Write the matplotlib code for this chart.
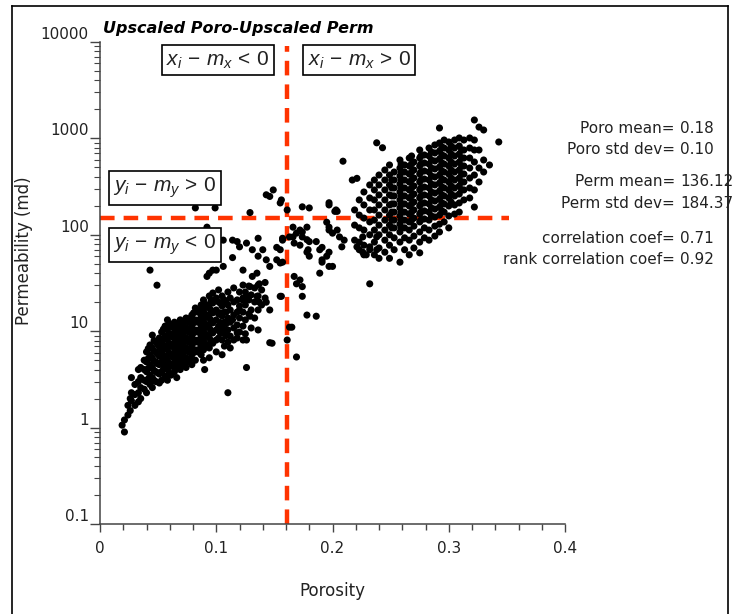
import numpy as np
import matplotlib
matplotlib.use("Agg")
import matplotlib.pyplot as plt
from matplotlib.lines import Line2D
from matplotlib.ticker import FixedLocator, FixedFormatter, MultipleLocator, LogLocator, NullFormatter

plt.rcParams["font.family"] = ["DejaVu Sans"]
plt.rcParams["mathtext.fontset"] = "custom"
plt.rcParams["mathtext.it"] = "Liberation Sans:italic"
plt.rcParams["mathtext.rm"] = "Liberation Sans"
plt.rcParams["lines.scale_dashes"] = False

# (porosity, permeability md)
low_cluster = [
    (0.019, 1.06), (0.021, 1.2), (0.021, 0.9), (0.024, 1.7), (0.024, 1.35),
    (0.026, 2.0), (0.026, 1.5), (0.027, 3.3), (0.027, 2.3), (0.027, 1.9),
    (0.030, 2.8), (0.030, 2.2), (0.030, 1.7),
    (0.033, 4.0), (0.033, 3.0), (0.033, 2.3), (0.033, 1.85),
    (0.035, 4.2), (0.035, 3.3), (0.035, 2.6), (0.035, 2.0),
    (0.038, 5.0), (0.038, 4.0), (0.038, 3.1), (0.038, 2.5),
    (0.040, 6.1), (0.040, 4.8), (0.040, 3.8), (0.040, 3.0), (0.040, 2.3),
    (0.043, 7.2), (0.043, 5.7), (0.043, 4.5), (0.043, 3.5), (0.043, 2.8),
    (0.045, 9.1), (0.045, 6.7), (0.045, 5.3), (0.045, 4.2), (0.045, 3.3), (0.045, 2.6),
    (0.048, 7.7), (0.048, 6.1), (0.048, 4.8), (0.048, 3.8), (0.048, 3.0),
    (0.051, 8.5), (0.051, 6.9), (0.051, 5.5), (0.051, 4.5), (0.051, 3.6), (0.051, 2.9),
    (0.053, 9.8), (0.053, 7.7), (0.053, 6.1), (0.053, 4.8), (0.053, 3.8), (0.053, 3.1),
    (0.056, 11.3), (0.056, 8.9), (0.056, 7.0), (0.056, 5.5), (0.056, 4.4), (0.056, 3.4),
    (0.058, 13.1), (0.058, 10.3), (0.058, 8.1), (0.058, 6.4), (0.058, 5.0), (0.058, 4.0), (0.058, 3.1),
    (0.061, 11.6), (0.061, 9.1), (0.061, 7.2), (0.061, 5.7), (0.061, 4.5), (0.061, 3.5),
    (0.064, 12.4), (0.064, 9.8), (0.064, 7.7), (0.064, 6.1), (0.064, 4.8), (0.064, 3.8),
    (0.066, 10.8), (0.066, 8.5), (0.066, 6.7), (0.066, 5.3), (0.066, 4.2), (0.066, 3.3),
    (0.069, 13.1), (0.069, 10.3), (0.069, 8.1), (0.069, 6.4), (0.069, 5.0), (0.069, 4.0),
    (0.071, 11.6), (0.071, 9.1), (0.071, 7.2), (0.071, 5.7), (0.071, 4.5),
    (0.074, 13.7), (0.074, 10.8), (0.074, 8.5), (0.074, 6.7), (0.074, 5.3), (0.074, 4.2),
    (0.076, 12.4), (0.076, 9.8), (0.076, 7.7), (0.076, 6.1), (0.076, 4.8),
    (0.079, 14.7), (0.079, 11.6), (0.079, 9.1), (0.079, 7.2), (0.079, 5.7), (0.079, 4.5),
    (0.082, 17.4), (0.082, 13.1), (0.082, 10.3), (0.082, 8.1), (0.082, 6.4), (0.082, 5.0),
    (0.084, 15.8), (0.084, 12.4), (0.084, 9.8), (0.084, 7.7), (0.084, 6.1),
    (0.087, 18.7), (0.087, 14.7), (0.087, 11.6), (0.087, 9.1), (0.087, 7.2), (0.087, 5.7),
    (0.089, 21.1), (0.089, 16.6), (0.089, 13.1), (0.089, 10.3), (0.089, 8.1), (0.089, 6.4), (0.089, 5.0),
    (0.092, 18.7), (0.092, 14.7), (0.092, 11.6), (0.092, 9.1), (0.092, 7.2),
    (0.094, 23.2), (0.094, 17.4), (0.094, 13.7), (0.094, 10.8), (0.094, 8.5), (0.094, 6.7), (0.094, 5.3),
    (0.097, 24.9), (0.097, 19.6), (0.097, 15.5), (0.097, 12.2), (0.097, 9.6), (0.097, 7.5),
    (0.100, 22.1), (0.100, 16.6), (0.100, 13.1), (0.100, 10.3), (0.100, 8.1), (0.100, 6.1),
    (0.102, 26.8), (0.102, 20.1), (0.102, 15.1), (0.102, 11.3), (0.102, 8.5),
    (0.105, 23.2), (0.105, 18.3), (0.105, 14.4), (0.105, 10.8), (0.105, 8.1), (0.105, 5.7),
    (0.107, 21.1), (0.107, 15.8), (0.107, 12.4), (0.107, 9.4), (0.107, 7.0),
    (0.110, 25.5), (0.110, 18.7), (0.110, 13.7), (0.110, 10.3), (0.110, 7.7),
    (0.112, 22.1), (0.112, 16.6), (0.112, 12.4), (0.112, 8.9), (0.112, 6.7),
    (0.115, 28.1), (0.115, 20.1), (0.115, 14.7), (0.115, 10.8), (0.115, 8.1),
    (0.118, 21.1), (0.118, 15.8), (0.118, 11.6), (0.118, 8.5),
    (0.120, 25.5), (0.120, 18.3), (0.120, 13.7), (0.120, 9.8),
    (0.123, 30.1), (0.123, 22.1), (0.123, 15.8), (0.123, 11.3), (0.123, 8.1),
    (0.125, 25.5), (0.125, 18.7), (0.125, 13.1), (0.125, 9.4),
    (0.128, 29.4), (0.128, 21.1), (0.128, 15.1),
    (0.130, 23.8), (0.130, 16.6), (0.130, 10.8),
    (0.133, 28.1), (0.133, 20.1), (0.133, 13.7),
    (0.136, 30.1), (0.136, 23.2), (0.136, 16.6), (0.136, 10.3),
    (0.139, 26.8), (0.139, 18.7), (0.142, 32.0), (0.142, 22.1),
    (0.049, 30.0), (0.043, 43.0), (0.090, 4.0), (0.110, 2.3), (0.126, 4.2), (0.148, 7.5),
    # denser core
    (0.0415, 6.6), (0.0415, 5.2), (0.0415, 4.1), (0.0415, 3.2),
    (0.0465, 8.0), (0.0465, 6.2), (0.0465, 4.9), (0.0465, 3.9), (0.0465, 3.1),
    (0.0495, 7.3), (0.0495, 5.8), (0.0495, 4.6), (0.0495, 3.7),
    (0.0545, 10.5), (0.0545, 8.3), (0.0545, 6.5), (0.0545, 5.1), (0.0545, 4.0),
    (0.0595, 12.0), (0.0595, 9.4), (0.0595, 7.4), (0.0595, 5.9), (0.0595, 4.6), (0.0595, 3.7),
    (0.0625, 11.0), (0.0625, 8.7), (0.0625, 6.9), (0.0625, 5.4), (0.0625, 4.3),
    (0.0675, 12.0), (0.0675, 9.4), (0.0675, 7.4), (0.0675, 5.8), (0.0675, 4.6),
    (0.0725, 12.6), (0.0725, 9.9), (0.0725, 7.9), (0.0725, 6.2), (0.0725, 4.9),
    (0.0775, 13.6), (0.0775, 10.7), (0.0775, 8.4), (0.0775, 6.6), (0.0775, 5.2),
    (0.0805, 15.5), (0.0805, 12.2), (0.0805, 9.6), (0.0805, 7.6), (0.0805, 6.0),
    (0.0855, 16.5), (0.0855, 13.2), (0.0855, 10.4), (0.0855, 8.2), (0.0855, 6.5),
    (0.0905, 19.0), (0.0905, 15.0), (0.0905, 11.9), (0.0905, 9.4), (0.0905, 7.4),
    (0.0955, 21.0), (0.0955, 16.5), (0.0955, 13.0), (0.0955, 10.2), (0.0955, 8.0),
    (0.1035, 19.5), (0.1035, 15.5), (0.1035, 12.3), (0.1035, 9.6),
    (0.1085, 20.0), (0.1085, 15.8), (0.1085, 12.0), (0.1085, 9.0),
]

mid_scatter = [
    (0.082, 190), (0.099, 190), (0.092, 120),
    (0.143, 260), (0.149, 292), (0.146, 250), (0.156, 230), (0.161, 181), (0.129, 170),
    (0.157, 92), (0.114, 88), (0.120, 75), (0.126, 82), (0.136, 92), (0.131, 70),
    (0.136, 60), (0.143, 55), (0.146, 47), (0.152, 55), (0.155, 51), (0.114, 58),
    (0.123, 43), (0.106, 47), (0.092, 37), (0.097, 43), (0.131, 37), (0.135, 40),
    (0.137, 31), (0.129, 29), (0.126, 23), (0.135, 23), (0.123, 21), (0.143, 20),
    (0.146, 16.6), (0.137, 20), (0.156, 23), (0.120, 16.6), (0.129, 14.3), (0.114, 13.1),
    (0.109, 10.3), (0.118, 9.6), (0.126, 8.1), (0.146, 7.6), (0.169, 5.4), (0.163, 11),
    (0.167, 37), (0.169, 31), (0.172, 34), (0.163, 95), (0.106, 88), (0.118, 85),
    (0.140, 70), (0.152, 74), (0.100, 43), (0.094, 40),
    (0.174, 195), (0.180, 190), (0.197, 215), (0.203, 181), (0.166, 120), (0.169, 104),
    (0.174, 107), (0.178, 89), (0.186, 85), (0.191, 74), (0.197, 120), (0.200, 104),
    (0.191, 55), (0.197, 47),
    (0.209, 580), (0.217, 370), (0.221, 385), (0.238, 900), (0.243, 800),
    (0.197, 204), (0.202, 175), (0.204, 175),
    (0.172, 112), (0.178, 120), (0.174, 95), (0.166, 95), (0.167, 82), (0.180, 85),
    (0.172, 78), (0.179, 70), (0.189, 70),
    (0.195, 135), (0.197, 112), (0.204, 112), (0.206, 95), (0.210, 88), (0.208, 75),
    (0.221, 75), (0.223, 70), (0.226, 66), (0.229, 62), (0.232, 75), (0.238, 70),
    (0.226, 95), (0.238, 95),
    (0.178, 66), (0.180, 60), (0.191, 52), (0.195, 60), (0.197, 66), (0.189, 40), (0.200, 47),
    (0.174, 29), (0.174, 23), (0.178, 14.7), (0.186, 14.3), (0.165, 11), (0.161, 8.1),
    (0.232, 31), (0.155, 214), (0.157, 88), (0.155, 70), (0.157, 52), (0.155, 23),
]

high_cluster = [
    (0.219, 181), (0.219, 126), (0.219, 88),
    (0.223, 230), (0.223, 160), (0.223, 118), (0.223, 84),
    (0.227, 278), (0.227, 204), (0.227, 149), (0.227, 112), (0.227, 78), (0.227, 62),
    (0.232, 329), (0.232, 241), (0.232, 181), (0.232, 136), (0.232, 100), (0.232, 70),
    (0.236, 370), (0.236, 292), (0.236, 230), (0.236, 181), (0.236, 142), (0.236, 112), (0.236, 84), (0.236, 62),
    (0.240, 417), (0.240, 329), (0.240, 259), (0.240, 204), (0.240, 160), (0.240, 126), (0.240, 100), (0.240, 73), (0.240, 57),
    (0.245, 470), (0.245, 370), (0.245, 292), (0.245, 230), (0.245, 181), (0.245, 142), (0.245, 112), (0.245, 88), (0.245, 66),
    (0.249, 530), (0.249, 417), (0.249, 329), (0.249, 259), (0.249, 204), (0.249, 160), (0.249, 126), (0.249, 100), (0.249, 78), (0.249, 57),
    (0.253, 448), (0.253, 370), (0.253, 306), (0.253, 253), (0.253, 209), (0.253, 172), (0.253, 142), (0.253, 118), (0.253, 93), (0.253, 70),
    (0.258, 597), (0.258, 493), (0.258, 407), (0.258, 336), (0.258, 278), (0.258, 230), (0.258, 190), (0.258, 157), (0.258, 129), (0.258, 107), (0.258, 84), (0.258, 52),
    (0.262, 530), (0.262, 448), (0.262, 370), (0.262, 306), (0.262, 253), (0.262, 209), (0.262, 172), (0.262, 142), (0.262, 118), (0.262, 93), (0.262, 70),
    (0.266, 626), (0.266, 517), (0.266, 427), (0.266, 353), (0.266, 292), (0.266, 241), (0.266, 199), (0.266, 164), (0.266, 136), (0.266, 112), (0.266, 88), (0.266, 62),
    (0.270, 569), (0.270, 470), (0.270, 388), (0.270, 321), (0.270, 265), (0.270, 219), (0.270, 181), (0.270, 149), (0.270, 123), (0.270, 97), (0.270, 73),
    (0.275, 758), (0.275, 626), (0.275, 517), (0.275, 427), (0.275, 353), (0.275, 292), (0.275, 241), (0.275, 199), (0.275, 164), (0.275, 136), (0.275, 107), (0.275, 84), (0.275, 65),
    (0.279, 673), (0.279, 556), (0.279, 459), (0.279, 379), (0.279, 313), (0.279, 259), (0.279, 214), (0.279, 177), (0.279, 146), (0.279, 118), (0.279, 93),
    (0.283, 795), (0.283, 657), (0.283, 542), (0.283, 448), (0.283, 370), (0.283, 306), (0.283, 253), (0.283, 209), (0.283, 172), (0.283, 142), (0.283, 112), (0.283, 88),
    (0.288, 855), (0.288, 706), (0.288, 583), (0.288, 482), (0.288, 398), (0.288, 329), (0.288, 271), (0.288, 224), (0.288, 185), (0.288, 153), (0.288, 123), (0.288, 97),
    (0.292, 1282), (0.292, 896), (0.292, 740), (0.292, 611), (0.292, 505), (0.292, 417), (0.292, 345), (0.292, 285), (0.292, 235), (0.292, 194), (0.292, 160), (0.292, 129), (0.292, 107),
    (0.296, 962), (0.296, 795), (0.296, 657), (0.296, 542), (0.296, 448), (0.296, 370), (0.296, 306), (0.296, 253), (0.296, 209), (0.296, 172), (0.296, 136),
    (0.300, 918), (0.300, 758), (0.300, 626), (0.300, 517), (0.300, 427), (0.300, 353), (0.300, 292), (0.300, 241), (0.300, 199), (0.300, 157), (0.300, 118),
    (0.305, 962), (0.305, 795), (0.305, 657), (0.305, 542), (0.305, 448), (0.305, 370), (0.305, 306), (0.305, 253), (0.305, 204), (0.305, 164),
    (0.309, 1010), (0.309, 834), (0.309, 689), (0.309, 569), (0.309, 470), (0.309, 388), (0.309, 321), (0.309, 265), (0.309, 214), (0.309, 172),
    (0.313, 962), (0.313, 758), (0.313, 626), (0.313, 517), (0.313, 427), (0.313, 353), (0.313, 292), (0.313, 230),
    (0.318, 1010), (0.318, 795), (0.318, 626), (0.318, 493), (0.318, 388), (0.318, 306), (0.318, 241),
    (0.322, 1552), (0.322, 962), (0.322, 758), (0.322, 569), (0.322, 417), (0.322, 292), (0.322, 194),
    (0.326, 1310), (0.326, 758), (0.326, 493), (0.326, 353),
    (0.330, 1222), (0.330, 597), (0.330, 448),
    (0.335, 530), (0.343, 918),
    # denser core
    (0.251, 370), (0.251, 306), (0.251, 253), (0.251, 209), (0.251, 172), (0.251, 142), (0.251, 118),
    (0.259, 542), (0.259, 448), (0.259, 370), (0.259, 306), (0.259, 253), (0.259, 209), (0.259, 172), (0.259, 142), (0.259, 118),
    (0.268, 657), (0.268, 542), (0.268, 448), (0.268, 370), (0.268, 306), (0.268, 253), (0.268, 209), (0.268, 172), (0.268, 142),
    (0.276, 657), (0.276, 542), (0.276, 448), (0.276, 370), (0.276, 306), (0.276, 253), (0.276, 209), (0.276, 172), (0.276, 142),
    (0.285, 723), (0.285, 597), (0.285, 493), (0.285, 407), (0.285, 336), (0.285, 278), (0.285, 230), (0.285, 190), (0.285, 157),
    (0.294, 815), (0.294, 673), (0.294, 556), (0.294, 459), (0.294, 379), (0.294, 313), (0.294, 259), (0.294, 214), (0.294, 177),
    (0.302, 834), (0.302, 689), (0.302, 569), (0.302, 470), (0.302, 388), (0.302, 321), (0.302, 265), (0.302, 219),
    (0.311, 758), (0.311, 626), (0.311, 517), (0.311, 427), (0.311, 353), (0.311, 292),
]

poro_line = 0.161     # vertical dashed reference (porosity)
perm_line = 150.0     # horizontal dashed reference (permeability)

x_ticks = [0, 0.1, 0.2, 0.3, 0.4]
x_labels = ["0", "0.1", "0.2", "0.3", "0.4"]
y_ticks = [0.1, 1, 10, 100, 1000, 10000]
y_labels = ["0.1", "1", "10", "100", "1000", "10000"]

stat_names = ["Poro mean=", "Poro std dev=", "Perm mean=", "Perm std dev=",
              "correlation coef=", "rank correlation coef="]
stat_values = ["0.18", "0.10", "136.12", "184.37", "0.71", "0.92"]
stat_rows = [0.790, 0.756, 0.704, 0.668, 0.612, 0.578]

box_texts = [r"$x_i\,-\,m_x\,<\,0$", r"$x_i\,-\,m_x\,>\,0$",
             r"$y_i\,-\,m_y\,>\,0$", r"$y_i\,-\,m_y\,<\,0$"]
box_pos = [(0.296, 0.902), (0.488, 0.902), (0.224, 0.694), (0.224, 0.601)]

pts = np.array(low_cluster + mid_scatter + high_cluster)
poro = pts[:, 0]
perm = pts[:, 1]

fig = plt.figure(figsize=(7.36, 6.14), dpi=100)
ax = fig.add_axes([0.1359, 0.1466, 0.6318, 0.785])

red = "#ff3300"
ax.plot([poro_line, poro_line], [0.1, 9000], color=red, lw=3.2, dashes=(10.5, 6.5), zorder=1)
ax.plot([0, 0.352], [perm_line, perm_line], color=red, lw=3.2, dashes=(10.5, 6.5), zorder=1)
ax.scatter(poro, perm, s=26, c="black", edgecolors="none", zorder=2)

ax.set_yscale("log")
ax.set_xlim(0, 0.4)
ax.set_ylim(0.1, 10000)
ax.spines["top"].set_visible(False)
ax.spines["right"].set_visible(False)
for s in ["left", "bottom"]:
    ax.spines[s].set_color("#444444")
    ax.spines[s].set_linewidth(1.1)

ax.xaxis.set_major_locator(FixedLocator(x_ticks))
ax.xaxis.set_major_formatter(FixedFormatter(x_labels))
ax.xaxis.set_minor_locator(MultipleLocator(0.02))
ax.yaxis.set_major_locator(FixedLocator(y_ticks))
ax.yaxis.set_major_formatter(FixedFormatter(y_labels))
ax.yaxis.set_minor_locator(LogLocator(base=10, subs=np.arange(2, 10), numticks=20))
ax.yaxis.set_minor_formatter(NullFormatter())
ax.tick_params(axis="x", which="major", length=6, width=1.0, color="#444444", labelsize=11, pad=6, labelcolor="#222222")
ax.tick_params(axis="x", which="minor", length=4, width=1.0, color="#444444")
ax.tick_params(axis="y", which="major", length=7, width=1.0, color="#444444", labelsize=11, pad=1, labelcolor="#222222")
ax.tick_params(axis="y", which="minor", length=4, width=0.8, color="#444444")
for lab in ax.get_yticklabels():
    lab.set_verticalalignment("bottom")

ax.set_xlabel("Porosity", fontsize=12, color="#222222")
ax.xaxis.set_label_coords(0.5, -0.12)
ax.set_ylabel("Permeability (md)", fontsize=12, color="#222222")
ax.yaxis.set_label_coords(-0.144, 0.568)

fig.text(0.140, 0.954, "Upscaled Poro-Upscaled Perm", fontsize=11.5, fontweight="bold",
         fontstyle="italic", ha="left", va="center")

for txt, (bx, by) in zip(box_texts, box_pos):
    fig.text(bx, by, txt, fontsize=15, ha="center", va="center", color="#222222",
             bbox=dict(boxstyle="square,pad=0.22", fc="white", ec="black", lw=1.2))

for name, val, ry in zip(stat_names, stat_values, stat_rows):
    fig.text(0.917, ry, name, fontsize=11, ha="right", va="center", color="#222222")
    fig.text(0.924, ry, val, fontsize=11, ha="left", va="center", color="#222222")

# outer frame
fx0, fx1, fy1 = 12 / 736, 728 / 736, 1 - 6 / 614
for xs, ys in [([fx0, fx0], [0, fy1]), ([fx0, fx1], [fy1, fy1]), ([fx1, fx1], [fy1, 0])]:
    fig.add_artist(Line2D(xs, ys, color="black", lw=1.2, transform=fig.transFigure))

fig.savefig("out.png", dpi=100)
